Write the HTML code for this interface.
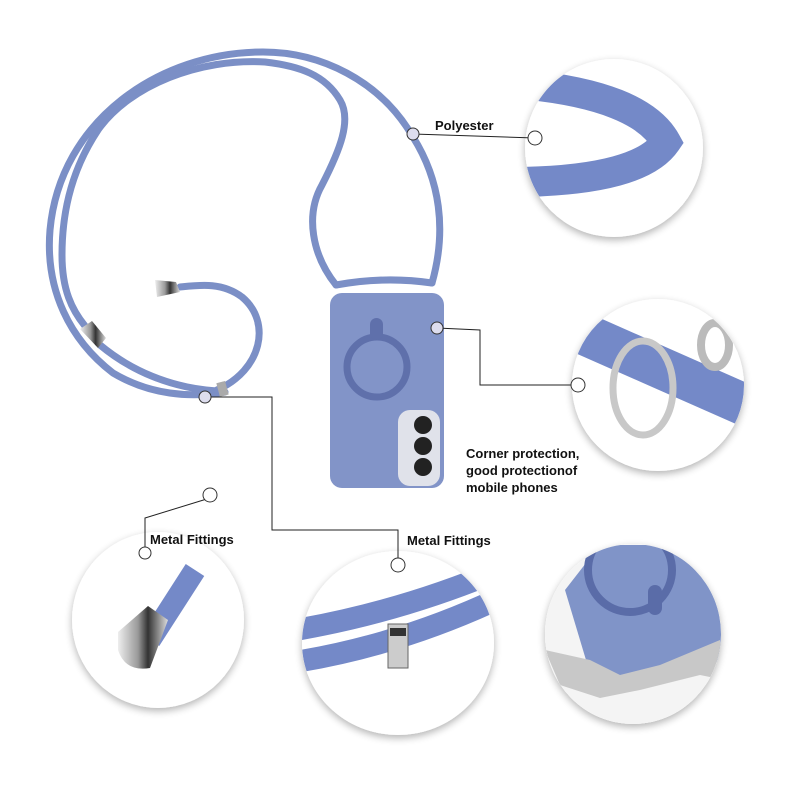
<!DOCTYPE html>
<html><head><meta charset="utf-8"><style>
html,body{margin:0;padding:0;background:#fff;}
svg{display:block;}
text{font-family:"Liberation Sans",Arial,sans-serif;font-weight:bold;font-size:13px;fill:#111;}
</style></head><body>
<svg width="800" height="800" viewBox="0 0 800 800">
<defs>
<filter id="sh" x="-20%" y="-20%" width="140%" height="140%"><feGaussianBlur in="SourceAlpha" stdDeviation="4"/><feOffset dx="0" dy="3"/><feComponentTransfer><feFuncA type="linear" slope="0.3"/></feComponentTransfer><feMerge><feMergeNode/><feMergeNode in="SourceGraphic"/></feMerge></filter>
<clipPath id="c1"><circle cx="614" cy="148" r="89"/></clipPath>
<clipPath id="c2"><circle cx="658" cy="385" r="86"/></clipPath>
<clipPath id="c3"><ellipse cx="158" cy="620" rx="86" ry="88"/></clipPath>
<clipPath id="c4"><ellipse cx="398" cy="643" rx="96" ry="92"/></clipPath>
<clipPath id="c5"><ellipse cx="633" cy="634" rx="88" ry="90"/></clipPath>
<linearGradient id="met" x1="0" y1="0" x2="1" y2="0"><stop offset="0" stop-color="#eee"/><stop offset="0.4" stop-color="#999"/><stop offset="0.6" stop-color="#333"/><stop offset="1" stop-color="#ddd"/></linearGradient>
</defs>
<rect width="800" height="800" fill="#fff"/>
<g filter="url(#sh)" fill="#fff">
<circle cx="614" cy="148" r="89"/>
<circle cx="658" cy="385" r="86"/>
<ellipse cx="158" cy="620" rx="86" ry="88"/>
<ellipse cx="398" cy="643" rx="96" ry="92"/>
<ellipse cx="633" cy="634" rx="88" ry="90"/>
</g>
<g clip-path="url(#c1)">
<path d="M520 84 Q640 95 666 142 Q640 180 520 182" fill="none" stroke="#7489c8" stroke-width="30" stroke-linecap="round"/>
</g>
<g clip-path="url(#c2)">
<path d="M575 330 L745 405" stroke="#7489c8" stroke-width="42" fill="none"/>
<ellipse cx="643" cy="388" rx="30" ry="47" fill="none" stroke="#c8c8c8" stroke-width="7"/>
<ellipse cx="715" cy="345" rx="14" ry="22" fill="none" stroke="#bbb" stroke-width="8"/>
</g>
<g clip-path="url(#c3)">
<path d="M195 570 L150 640" stroke="#7489c8" stroke-width="22" fill="none"/>
<path d="M118 632 L148 606 L168 620 L150 668 Q125 672 118 650Z" fill="url(#met)"/>
</g>
<g clip-path="url(#c4)">
<path d="M295 630 Q400 612 500 570" stroke="#7489c8" stroke-width="22" fill="none"/>
<path d="M295 662 Q400 645 500 598" stroke="#7489c8" stroke-width="22" fill="none"/>
<rect x="388" y="624" width="20" height="44" fill="#ccc" stroke="#666"/>
<rect x="390" y="628" width="16" height="8" fill="#333"/>
</g>
<g clip-path="url(#c5)">
<rect x="540" y="540" width="200" height="190" fill="#f4f4f4"/>
<path d="M565 590 L600 545 L725 545 L725 660 L595 690Z" fill="#8094c8"/>
<circle cx="630" cy="570" r="42" fill="none" stroke="#5a6ca8" stroke-width="8"/>
<rect x="648" y="585" width="14" height="30" rx="7" fill="#5a6ca8"/>
<path d="M545 650 L590 660 L620 675 L660 665 L720 640 L725 680 L700 675 L640 690 L600 698 L560 685Z" fill="#c8c8c8"/>
</g>
<g fill="none" stroke="#7b8fc6" stroke-width="7" stroke-linecap="round">
<path d="M432 283 C447 230 440 180 413 137 C380 80 320 52 263 52 C160 52 60 120 50 230 C45 290 70 340 113 373 C150 395 190 398 225 392"/>
<path d="M336 285 C312 255 305 215 322 185 C340 150 352 120 340 100 C325 75 300 66 265 62 C200 58 130 85 98 130 C68 175 62 220 62 255 C62 290 72 310 85 326"/>
<path d="M100 345 C130 370 170 388 217 391"/>
<path d="M217 390 C262 370 272 322 242 297 C222 282 200 285 180 287"/>
<path d="M336 285 Q385 276 432 283"/>
</g>
<path d="M155 280 L176 282 L180 292 L157 297Z" fill="url(#met)"/>
<path d="M80 329 L92 321 L106 338 L98 348Z" fill="url(#met)"/>
<rect x="218" y="382" width="9" height="14" fill="#aaa" transform="rotate(-15 222 389)"/>
<rect x="330" y="293" width="114" height="195" rx="12" fill="#8294c8"/>
<circle cx="377" cy="367" r="30" fill="none" stroke="#5f70ab" stroke-width="7"/>
<rect x="370" y="318" width="13" height="22" rx="6.5" fill="#5f70ab"/>
<rect x="398" y="410" width="42" height="76" rx="12" fill="#e0e2ea"/>
<circle cx="423" cy="425" r="9" fill="#222"/><circle cx="423" cy="446" r="9" fill="#222"/><circle cx="423" cy="467" r="9" fill="#222"/>
<g fill="none" stroke="#222" stroke-width="1">
<path d="M413 134 L535 138"/>
<path d="M437 328 L480 330 L480 385 L578 385"/>
<path d="M205 397 L272 397 L272 530 L398 530 L398 563"/>
<path d="M210 498 L145 518 L145 553"/>
</g>
<g fill="#fff" stroke="#333" stroke-width="1">
<circle cx="413" cy="134" r="6" fill="#dde"/><circle cx="535" cy="138" r="7"/>
<circle cx="437" cy="328" r="6" fill="#dde"/><circle cx="578" cy="385" r="7"/>
<circle cx="205" cy="397" r="6" fill="#dde"/><circle cx="398" cy="565" r="7"/>
<circle cx="210" cy="495" r="7"/><circle cx="145" cy="553" r="6"/>
</g>
<text x="435" y="130">Polyester</text>
<text x="466" y="458">Corner protection,</text>
<text x="466" y="475">good protectionof</text>
<text x="466" y="492">mobile phones</text>
<text x="150" y="544">Metal Fittings</text>
<text x="407" y="545">Metal Fittings</text>
</svg>
</body></html>
